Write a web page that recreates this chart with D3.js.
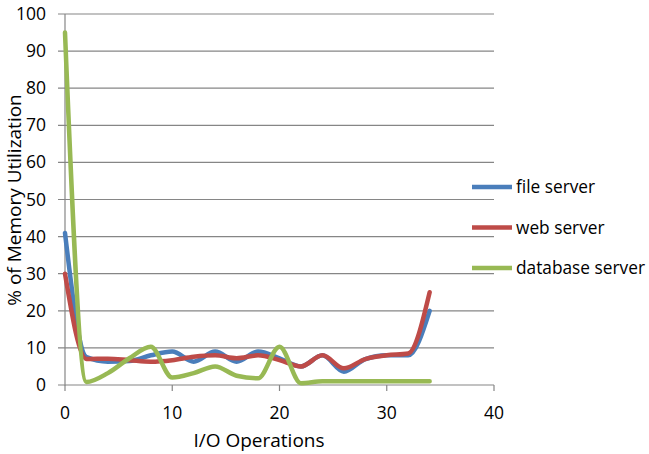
<!DOCTYPE html>
<html><head><meta charset="utf-8">
<script src="https://cdn.jsdelivr.net/npm/d3@7"></script>
<style>body{margin:0;background:#fff}svg{display:block}</style>
</head><body>
<svg id="c" width="649" height="454"></svg>
<script>
const xs = [0,2,4,6,8,10,12,14,16,18,20,22,24,26,28,30,32,34];
const fileServer = [41,7.5,6.3,6.5,8,9,6.3,9,6.3,9,7.2,5,8,3.6,7,8,8,20];
const webServer = [30,7,7.1,6.7,6.3,6.7,7.6,8,7.2,8,6.7,5,8,4.5,7,8,8.5,25];
const dbServer = [95,0.8,3.2,7.2,10.3,2,3.2,5,2.5,1.8,10.3,0.5,1,1,1,1,1,1];
const seriesNames = ["file server","web server","database server"];
const xTicks = [0,10,20,30,40];
const yTicks = [0,10,20,30,40,50,60,70,80,90,100];
const colors = ["#4A7EBB","#BE4B48","#98B954"];

const svg = d3.select("#c");
const font = "'Open Sans', sans-serif";
const x = d3.scaleLinear().domain([0,40]).range([65,494]);
const y = d3.scaleLinear().domain([0,100]).range([385,14]);

svg.append("g").selectAll("line").data(yTicks).join("line")
  .attr("x1",58).attr("x2",494).attr("y1",d=>y(d)).attr("y2",d=>y(d))
  .attr("stroke","#868686").attr("stroke-width",1.2);
svg.append("line").attr("x1",65).attr("x2",65).attr("y1",y(100)).attr("y2",y(0)+0.5)
  .attr("stroke","#868686").attr("stroke-width",1.2);
svg.append("g").selectAll("line").data(xTicks).join("line")
  .attr("x1",d=>x(d)).attr("x2",d=>x(d)).attr("y1",385).attr("y2",391)
  .attr("stroke","#868686").attr("stroke-width",1.2);

svg.append("g").selectAll("text").data(yTicks).join("text")
  .attr("x",46).attr("y",d=>y(d)+6).attr("text-anchor","end")
  .attr("font-family",font).attr("font-size",17.5).attr("fill","#000").text(d=>d);
svg.append("g").selectAll("text").data(xTicks).join("text")
  .attr("x",d=>x(d)).attr("y",419).attr("text-anchor","middle")
  .attr("font-family",font).attr("font-size",17.5).attr("fill","#000").text(d=>d);

svg.append("text").attr("x",259).attr("y",447).attr("text-anchor","middle")
  .attr("font-family",font).attr("font-size",19).text("I/O Operations");
svg.append("text").attr("transform","translate(21,200) rotate(-90)").attr("text-anchor","middle")
  .attr("font-family",font).attr("font-size",19).text("% of Memory Utilization");

const data = [fileServer, webServer, dbServer];
const line = d3.line().x((d,i)=>x(xs[i])).y(d=>y(d)).curve(d3.curveMonotoneX);
svg.append("g").selectAll("path").data(data).join("path")
  .attr("d",d=>line(d)).attr("fill","none").attr("stroke",(d,i)=>colors[i])
  .attr("stroke-width",4.5).attr("stroke-linejoin","round").attr("stroke-linecap","round");

const lg = svg.append("g").selectAll("g").data(seriesNames).join("g")
  .attr("transform",(d,i)=>`translate(0,${187+i*40.5})`);
lg.append("line").attr("x1",472).attr("x2",512).attr("stroke",(d,i)=>colors[i]).attr("stroke-width",4.5);
lg.append("text").attr("x",516).attr("y",6).attr("font-family",font).attr("font-size",17.3).text(d=>d);
</script>
</body></html>
